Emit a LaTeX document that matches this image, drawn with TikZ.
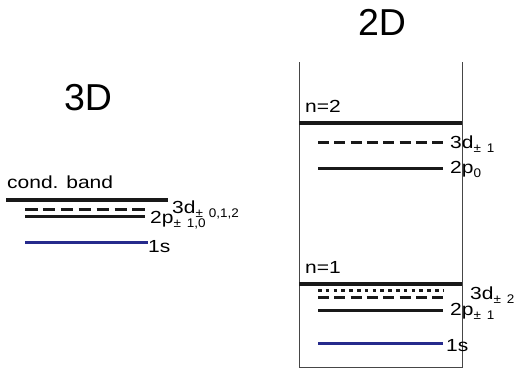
\documentclass[tikz,border=0pt]{standalone}
\usepackage{graphicx}
\usepackage{fontspec}
\setmainfont{Liberation Sans}
\definecolor{lvlblue}{RGB}{38,42,140}
\definecolor{boxgray}{RGB}{70,70,70}
\newcommand{\lvlsub}[1]{\raisebox{-4.5pt}{\scalebox{1.08}[1]{\fontsize{12.5}{13}\selectfont #1}}}
\newcommand{\lab}[1]{\scalebox{1.2}[1]{#1}}
\begin{document}
\begin{tikzpicture}[x=1pt,y=-1pt,
  lbl/.style={anchor=base west,inner sep=0pt,font=\fontsize{17.5}{18}\selectfont},
  ttl/.style={anchor=base,inner sep=0pt,font=\fontsize{37.5}{40}\selectfont},
  bandline/.style={line width=4pt,black!90},
  lvl/.style={line width=3pt,black!90},
  lvldash/.style={line width=3pt,black!90,dash pattern=on 12.5pt off 5.4pt},
  lvldashb/.style={line width=3pt,black!90,dash pattern=on 11pt off 5.3pt},
  lvldot/.style={line width=3pt,black!90,dash pattern=on 3.5pt off 4.3pt},
  lvlb/.style={line width=3pt,lvlblue},
  boxline/.style={line width=1pt,boxgray}]
\useasboundingbox (0,0) rectangle (518,372);
% titles
\node[ttl] (t3) at (88,110) {3D};
\node[ttl] (t2) at (382,35) {2D};
% 3D
\coordinate (cbL) at (6,200); \coordinate (cbR) at (168,200);
\draw[bandline] (cbL) -- (cbR);
\coordinate (d3L) at (25,209); \coordinate (d3R) at (145,209);
\draw[lvldash] (d3L) -- (d3R);
\coordinate (p3L) at (25,216); \coordinate (p3R) at (145,216);
\draw[lvl] (p3L) -- (p3R);
\coordinate (s3L) at (25,242); \coordinate (s3R) at (148,242);
\draw[lvlb] (s3L) -- (s3R);
\node[lbl] (cb) at (7,188) {\lab{cond. band}};
\node[lbl] (l3d) at (172,213) {\lab{3d}\lvlsub{±\hspace{2pt} 0,1,2}};
\node[lbl] (l2p) at (150,223) {\lab{2p}\lvlsub{±\hspace{2pt} 1,0}};
\node[lbl] (l1s) at (148,252) {\lab{1s}};
% 2D box
\coordinate (bTL) at (299,62); \coordinate (bBL) at (299,367);
\coordinate (bTR) at (462,62); \coordinate (bBR) at (462,367);
\draw[boxline] (bTL) -- (bBL) -- (bBR) -- (bTR);
% n=2
\coordinate (n2L) at (299,123); \coordinate (n2R) at (462,123);
\draw[bandline] (n2L) -- (n2R);
\node[lbl] (n2) at (305,112) {\lab{n=2}};
\coordinate (d2L) at (318,142); \coordinate (d2R) at (443,142);
\draw[lvldashb] (d2L) -- (d2R);
\node[lbl] (l3d2) at (450,148) {\lab{3d}\lvlsub{±\hspace{2pt} 1}};
\coordinate (p0L) at (318,168); \coordinate (p0R) at (443,168);
\draw[lvl] (p0L) -- (p0R);
\node[lbl] (l2p0) at (450,173) {\lab{2p}\lvlsub{0}};
% n=1
\coordinate (n1L) at (299,284); \coordinate (n1R) at (462,284);
\draw[bandline] (n1L) -- (n1R);
\node[lbl] (n1) at (305,273) {\lab{n=1}};
\coordinate (dtL) at (318,290); \coordinate (dtR) at (443,290);
\draw[lvldot] (dtL) -- (dtR);
\coordinate (d1L) at (318,297); \coordinate (d1R) at (443,297);
\draw[lvldashb] (d1L) -- (d1R);
\coordinate (p1L) at (318,310); \coordinate (p1R) at (443,310);
\draw[lvl] (p1L) -- (p1R);
\coordinate (s1L) at (318,343); \coordinate (s1R) at (443,343);
\draw[lvlb] (s1L) -- (s1R);
\node[lbl] (l3d1) at (470,299) {\lab{3d}\lvlsub{±\hspace{2pt} 2}};
\node[lbl] (l2p1) at (450,315) {\lab{2p}\lvlsub{±\hspace{2pt} 1}};
\node[lbl] (l1s2) at (446,351) {\lab{1s}};
\end{tikzpicture}
\end{document}
